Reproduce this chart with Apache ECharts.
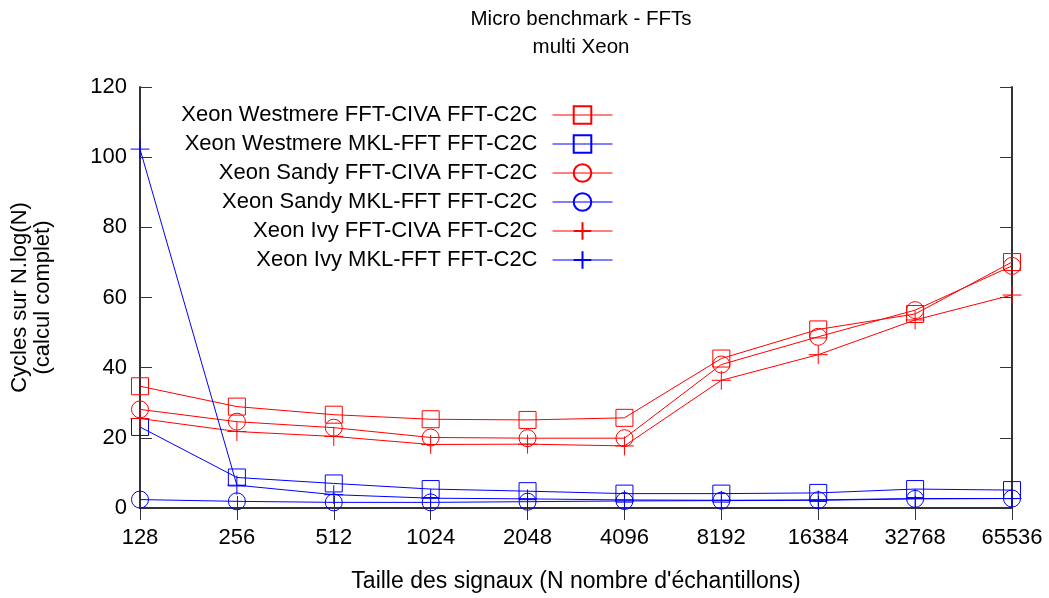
<!DOCTYPE html>
<html>
<head>
<meta charset="utf-8">
<script src="https://cdn.jsdelivr.net/npm/echarts@6/dist/echarts.min.js"></script>
<style>html,body{margin:0;padding:0;background:#fff;}#c{width:1049px;height:598px;}</style>
</head>
<body>
<div id="c"></div>
<script>
var categories = ['128','256','512','1024','2048','4096','8192','16384','32768','65536'];
var yTicks = [0,20,40,60,80,100,120];
var seriesNames = [
  'Xeon Westmere FFT-CIVA FFT-C2C',
  'Xeon Westmere MKL-FFT FFT-C2C',
  'Xeon Sandy FFT-CIVA FFT-C2C',
  'Xeon Sandy MKL-FFT FFT-C2C',
  'Xeon Ivy FFT-CIVA FFT-C2C',
  'Xeon Ivy MKL-FFT FFT-C2C'
];
var westmereCiva = [34.7, 28.9, 26.6, 25.3, 25.1, 25.7, 42.6, 50.9, 55.3, 70.1];
var westmereMkl  = [23.1, 8.7, 7.0, 5.4, 4.8, 4.1, 4.1, 4.3, 5.4, 5.1];
var sandyCiva    = [28.1, 24.6, 22.9, 20.1, 19.9, 19.9, 40.9, 48.8, 56.4, 69.0];
var sandyMkl     = [2.4, 1.9, 1.6, 1.6, 1.8, 2.0, 2.1, 2.2, 2.6, 2.7];
var ivyCiva      = [25.5, 21.8, 20.4, 18.1, 18.2, 17.7, 36.4, 43.7, 53.6, 60.7];
var ivyMkl       = [102.3, 6.5, 3.8, 2.8, 2.6, 2.3, 2.2, 2.3, 2.7, 2.7];

var RED = '#ff0000', BLUE = '#0000ff';
var FONT = 'Liberation Sans';
var PLUS = 'path://M10,0L10,20M0,10L20,10';

function mk(name, data, color, symbol, size) {
  return {
    name: name, type: 'line', data: data,
    symbol: symbol, symbolSize: size, showSymbol: true,
    lineStyle: {color: color, width: 1},
    itemStyle: {color: 'rgba(0,0,0,0)', borderColor: color, borderWidth: 1},
    emphasis: {disabled: true},
    xAxisIndex: 0, yAxisIndex: 0
  };
}

var series = [
  mk(seriesNames[0], westmereCiva, RED, 'rect', 17),
  mk(seriesNames[1], westmereMkl, BLUE, 'rect', 17),
  mk(seriesNames[2], sandyCiva, RED, 'circle', 17),
  mk(seriesNames[3], sandyMkl, BLUE, 'circle', 17),
  mk(seriesNames[4], ivyCiva, RED, PLUS, 19),
  mk(seriesNames[5], ivyMkl, BLUE, PLUS, 19)
];

var rowCenters = [113, 142, 171, 200, 229, 258];
var legends = seriesNames.map(function(n, i) {
  return {
    data: [n], orient: 'vertical', align: 'right',
    right: 436, top: rowCenters[i] - 9,
    itemWidth: 60, itemHeight: 22, padding: 0,
    selectedMode: false,
    lineStyle: {width: 1},
    textStyle: {fontFamily: FONT, fontSize: 22, color: '#000', padding: [0, 10, 0, 0]}
  };
});

var axisLineStyle = {show: true, lineStyle: {color: '#333', width: 2}};
var tickStyle = {show: true, inside: true, length: 12, lineStyle: {color: '#333', width: 1}};

var option = {
  animation: false,
  backgroundColor: '#fff',
  textStyle: {fontFamily: FONT},
  title: {
    text: 'Micro benchmark - FFTs\nmulti Xeon',
    left: 576, top: 0, textAlign: 'center',
    textStyle: {fontFamily: FONT, fontSize: 20.5, fontWeight: 'normal', color: '#000', lineHeight: 28}
  },
  legend: legends,
  grid: {left: 138, right: 37, top: 87, bottom: 89, containLabel: false},
  xAxis: [
    {
      type: 'category', data: categories, boundaryGap: false, position: 'bottom',
      axisLine: axisLineStyle, axisTick: tickStyle,
      axisLabel: {fontFamily: FONT, fontSize: 22, color: '#000', margin: 19},
      splitLine: {show: false},
      name: "Taille des signaux (N nombre d'échantillons)",
      nameLocation: 'middle', nameGap: 62,
      nameTextStyle: {fontFamily: FONT, fontSize: 23, color: '#000'}
    },
    {
      type: 'category', data: categories, boundaryGap: false, position: 'top',
      axisLine: axisLineStyle, axisTick: tickStyle,
      axisLabel: {show: false}, splitLine: {show: false}
    }
  ],
  yAxis: [
    {
      type: 'value', min: yTicks[0], max: yTicks[yTicks.length - 1], interval: 20, position: 'left',
      axisLine: axisLineStyle, axisTick: tickStyle,
      axisLabel: {fontFamily: FONT, fontSize: 22, color: '#000', margin: 13},
      splitLine: {show: false},
      name: 'Cycles sur N.log(N)\n(calcul complet)',
      nameLocation: 'middle', nameGap: 86, nameRotate: 90,
      nameTextStyle: {fontFamily: FONT, fontSize: 22, color: '#000', lineHeight: 23}
    },
    {
      type: 'value', min: yTicks[0], max: yTicks[yTicks.length - 1], interval: 20, position: 'right',
      axisLine: axisLineStyle, axisTick: tickStyle,
      axisLabel: {show: false}, splitLine: {show: false}
    }
  ],
  series: series
};

var chart = echarts.init(document.getElementById('c'), null, {renderer: 'canvas'});
chart.setOption(option);
</script>
</body>
</html>
